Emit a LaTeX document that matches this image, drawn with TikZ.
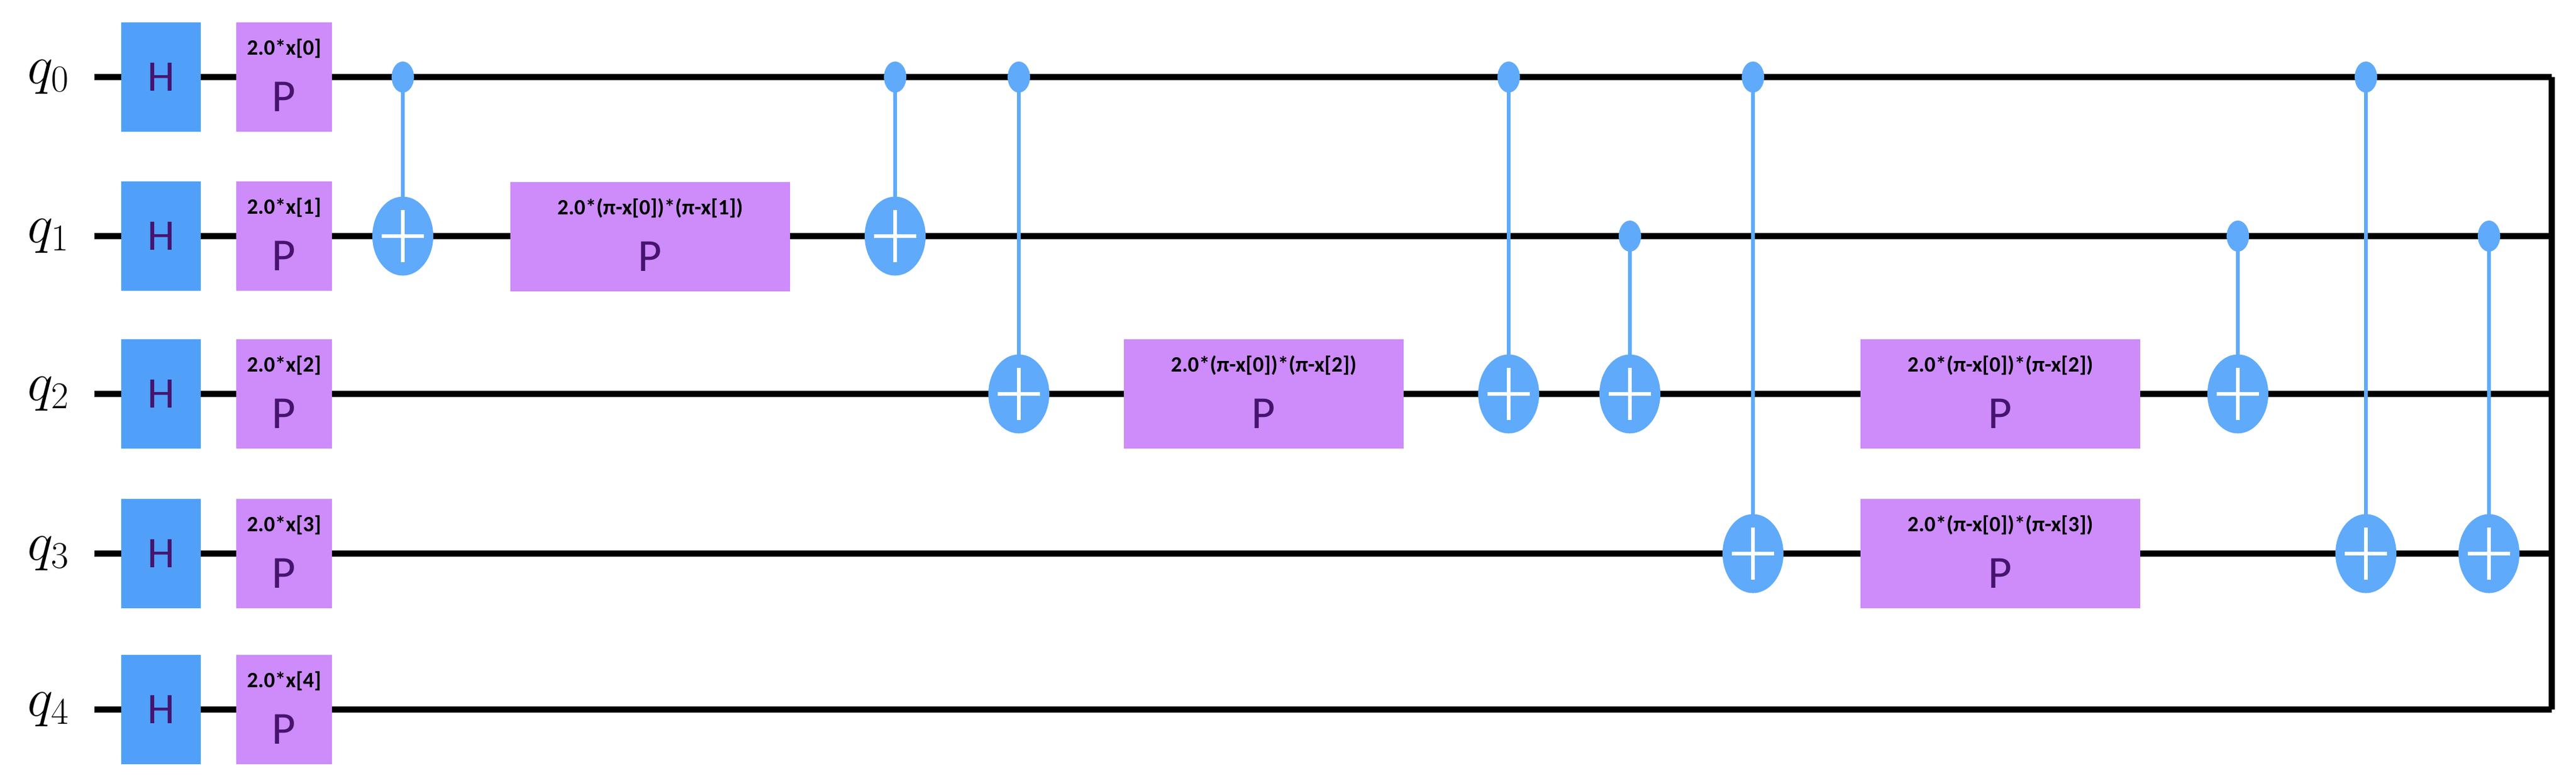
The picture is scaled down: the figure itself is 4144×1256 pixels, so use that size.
\documentclass[tikz,border=0pt]{standalone}
\usepackage{fontspec}
\setmainfont{Carlito}
\usetikzlibrary{shapes.geometric}
\definecolor{hblue}{RGB}{80,160,250}
\definecolor{ppurple}{RGB}{205,140,250}
\definecolor{cblue}{RGB}{95,170,250}
\definecolor{ptext}{RGB}{70,20,110}
\begin{document}
\begin{tikzpicture}[x=0.01cm,y=-0.01cm,
  wire/.style={line width=2.8pt,black},
  ctl/.style={line width=1.6pt,cblue},
  hgate/.style={fill=hblue,minimum width=1.28cm,minimum height=1.76cm,inner sep=0pt,text=ptext,font=\fontsize{20}{20}\selectfont},
  pbox/.style={fill=ppurple,inner sep=0pt},
  dotc/.style={ellipse,fill=cblue,minimum width=0.36cm,minimum height=0.5cm,inner sep=0pt},
  targ/.style={ellipse,fill=cblue,minimum width=0.98cm,minimum height=1.27cm,inner sep=0pt},
  ptxt/.style={text=ptext,font=\fontsize{21}{21}\selectfont},
  partxt/.style={font=\bfseries\fontsize{10}{12}\selectfont}]
\useasboundingbox (0,0) rectangle (4144,1256);
\foreach \i/\y in {0/124,1/380,2/634,3/891,4/1142}{
  \node (lab\i) at (78,\y) {\fontsize{26}{26}\selectfont$q_{\i}$};
  \coordinate (ws\i) at (152,\y);
  \coordinate (we\i) at (4105,\y);
  \draw[wire] (ws\i) -- (we\i);
}
\draw[wire] (we0) -- (we4);
% control lines
\foreach \n/\x/\a/\b in {c1/648/124/380,c2/1440/124/380,c3/1639/124/634,c4/2427/124/634,c5/2622/380/634,c6/2820/124/891,c7/3600/380/634,c8/3806/124/891,c9/4004/380/891}{
  \coordinate (\n a) at (\x,\a);
  \coordinate (\n b) at (\x,\b);
  \draw[ctl] (\n a) -- (\n b);
  \node[dotc] (\n d) at (\n a) {};
  \node[targ] (\n t) at (\n b) {};
  \draw[white,line width=1.6pt] ([xshift=-0.34cm]\n t.center) -- ([xshift=0.34cm]\n t.center)
     ([yshift=-0.42cm]\n t.center) -- ([yshift=0.42cm]\n t.center);
}
% H and P gates
\foreach \i/\y in {0/124,1/380,2/634,3/891,4/1142}{
  \node[hgate] (h\i) at (259,\y) {H};
  \node[pbox,minimum width=1.54cm,minimum height=1.76cm] (p\i) at (457,\y) {};
  \node[ptxt] at ([yshift=-0.32cm]p\i.center) {P};
  \node[partxt] at ([yshift=0.46cm]p\i.center) {2.0*x[\i]};
}
% big P gates
\foreach \n/\x/\y/\t in {b1/1046/381/{2.0*(π-x[0])*(π-x[1])},b2/2033/634/{2.0*(π-x[0])*(π-x[2])},b3/3218/634/{2.0*(π-x[0])*(π-x[2])},b4/3218/891/{2.0*(π-x[0])*(π-x[3])}}{
  \node[pbox,minimum width=4.5cm,minimum height=1.76cm] (\n) at (\x,\y) {};
  \node[ptxt] at ([yshift=-0.32cm]\n.center) {P};
  \node[partxt] at ([yshift=0.46cm]\n.center) {\t};
}
\end{tikzpicture}
\end{document}
